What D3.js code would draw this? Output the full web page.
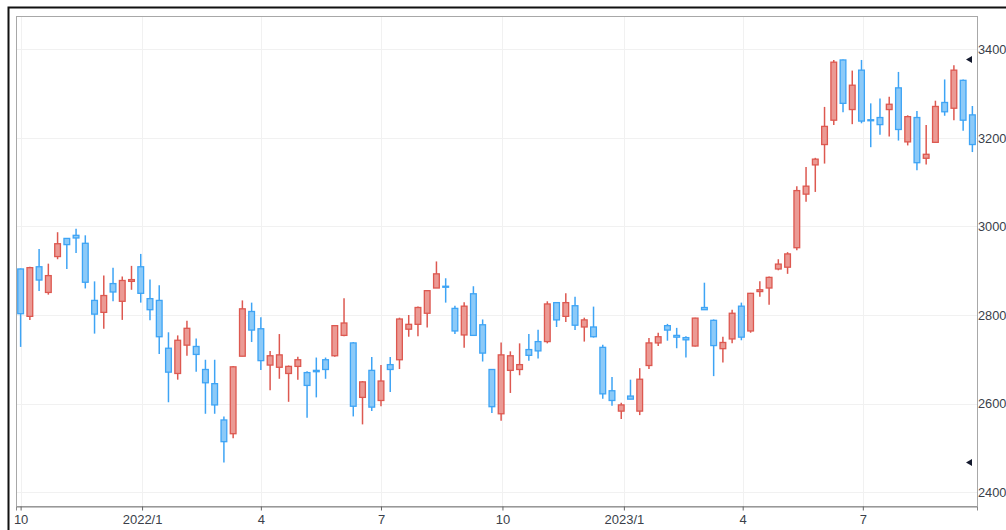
<!DOCTYPE html>
<html>
<head>
<meta charset="utf-8">
<script src="https://cdn.jsdelivr.net/npm/d3@7"></script>
<style>
  html, body { margin: 0; padding: 0; background: #fff; }
  svg { display: block; font-family: "Liberation Sans", Arial, sans-serif; }
</style>
</head>
<body>
<div class="container"></div>
<script>
// weekly candles (Friday of each week)
const dates = [
  '2021-10-01', '2021-10-08', '2021-10-15', '2021-10-22', '2021-10-29',
  '2021-11-05', '2021-11-12', '2021-11-19', '2021-11-26',
  '2021-12-03', '2021-12-10', '2021-12-17', '2021-12-24', '2021-12-31',
  '2022-01-07', '2022-01-14', '2022-01-21', '2022-01-28',
  '2022-02-04', '2022-02-11', '2022-02-18', '2022-02-25',
  '2022-03-04', '2022-03-11', '2022-03-18', '2022-03-25',
  '2022-04-01', '2022-04-08', '2022-04-15', '2022-04-22', '2022-04-29',
  '2022-05-06', '2022-05-13', '2022-05-20', '2022-05-27',
  '2022-06-03', '2022-06-10', '2022-06-17', '2022-06-24',
  '2022-07-01', '2022-07-08', '2022-07-15', '2022-07-22', '2022-07-29',
  '2022-08-05', '2022-08-12', '2022-08-19', '2022-08-26',
  '2022-09-02', '2022-09-09', '2022-09-16', '2022-09-23', '2022-09-30',
  '2022-10-07', '2022-10-14', '2022-10-21', '2022-10-28',
  '2022-11-04', '2022-11-11', '2022-11-18', '2022-11-25',
  '2022-12-02', '2022-12-09', '2022-12-16', '2022-12-23', '2022-12-30',
  '2023-01-06', '2023-01-13', '2023-01-20', '2023-01-27',
  '2023-02-03', '2023-02-10', '2023-02-17', '2023-02-24',
  '2023-03-03', '2023-03-10', '2023-03-17', '2023-03-24', '2023-03-31',
  '2023-04-07', '2023-04-14', '2023-04-21', '2023-04-28',
  '2023-05-05', '2023-05-12', '2023-05-19', '2023-05-26',
  '2023-06-02', '2023-06-09', '2023-06-16', '2023-06-23', '2023-06-30',
  '2023-07-07', '2023-07-14', '2023-07-21', '2023-07-28',
  '2023-08-04', '2023-08-11', '2023-08-18', '2023-08-25',
  '2023-09-01', '2023-09-08', '2023-09-15', '2023-09-22',
];

const open = [
  2904, 2797, 2909, 2851, 2932, 2973, 2980, 2962, 2833, 2806, 2871, 2831, 2876, 2909,
  2837, 2833, 2725, 2668, 2732, 2729, 2677, 2645, 2563, 2532, 2707, 2808,
  2769, 2687, 2682, 2668, 2684, 2670, 2675, 2699, 2708, 2754, 2737, 2614, 2675,
  2607, 2688, 2699, 2768, 2779, 2804, 2861, 2865, 2815, 2755, 2848, 2778, 2677, 2577,
  2675, 2677, 2722, 2740, 2740, 2828, 2797, 2821, 2773, 2773, 2727, 2629, 2583,
  2617, 2583, 2686, 2737, 2776, 2754, 2749, 2730, 2817, 2788, 2724, 2746, 2820,
  2764, 2853, 2861, 2904, 2908, 2952, 3073, 3139, 3185, 3240, 3376, 3264, 3353,
  3241, 3246, 3264, 3313, 3191, 3246, 3154, 3190, 3280, 3267, 3330, 3252,
];

const high = [
  2905, 2909, 2949, 2916, 2987, 2974, 2995, 2980, 2876, 2889, 2907, 2887, 2911, 2938,
  2880, 2867, 2761, 2754, 2787, 2747, 2699, 2699, 2571, 2685, 2833, 2828,
  2795, 2719, 2757, 2686, 2706, 2673, 2704, 2704, 2777, 2838, 2739, 2651, 2705,
  2687, 2705, 2794, 2800, 2819, 2856, 2921, 2883, 2821, 2829, 2865, 2790, 2678, 2738,
  2718, 2736, 2757, 2767, 2831, 2829, 2849, 2841, 2794, 2819, 2733, 2660, 2602,
  2654, 2680, 2748, 2760, 2780, 2771, 2752, 2794, 2873, 2790, 2751, 2812, 2828,
  2850, 2876, 2887, 2926, 2942, 3091, 3134, 3155, 3270, 3376, 3377, 3352, 3376,
  3278, 3289, 3293, 3349, 3251, 3261, 3229, 3284, 3332, 3364, 3332, 3272,
];

const low = [
  2728, 2789, 2854, 2846, 2926, 2904, 2940, 2860, 2758, 2769, 2831, 2789, 2857, 2828,
  2788, 2712, 2603, 2654, 2708, 2672, 2577, 2577, 2467, 2522, 2707, 2739,
  2676, 2630, 2656, 2604, 2654, 2568, 2614, 2656, 2706, 2752, 2571, 2553, 2583,
  2594, 2626, 2678, 2751, 2752, 2772, 2861, 2828, 2757, 2726, 2754, 2695, 2579, 2561,
  2624, 2664, 2697, 2702, 2736, 2773, 2784, 2766, 2740, 2749, 2611, 2595, 2565,
  2610, 2574, 2678, 2730, 2742, 2725, 2704, 2729, 2812, 2662, 2693, 2736, 2743,
  2760, 2841, 2823, 2901, 2893, 2946, 3056, 3078, 3142, 3229, 3258, 3231, 3233,
  3179, 3207, 3203, 3194, 3183, 3127, 3140, 3190, 3250, 3240, 3216, 3168,
];

const close = [
  2803, 2907, 2879, 2889, 2961, 2959, 2974, 2874, 2802, 2844, 2852, 2878, 2880, 2849,
  2812, 2751, 2671, 2743, 2770, 2711, 2647, 2597, 2514, 2683, 2814, 2766,
  2697, 2708, 2710, 2684, 2699, 2641, 2672, 2677, 2776, 2782, 2594, 2649, 2592,
  2651, 2677, 2791, 2779, 2817, 2855, 2893, 2863, 2764, 2820, 2754, 2714, 2593, 2710,
  2708, 2688, 2709, 2719, 2825, 2789, 2828, 2777, 2789, 2751, 2622, 2607, 2597,
  2610, 2655, 2737, 2751, 2766, 2750, 2744, 2793, 2812, 2731, 2738, 2804, 2750,
  2849, 2857, 2885, 2915, 2938, 3081, 3091, 3152, 3226, 3371, 3278, 3319, 3238,
  3239, 3230, 3276, 3219, 3248, 3144, 3163, 3271, 3259, 3353, 3240, 3185,
];

const yTicks = [2400, 2600, 2800, 3000, 3200, 3400];
const xTicks = [
  '2021-10-01', '2022-01-01', '2022-04-01', '2022-07-01',
  '2022-10-01', '2023-01-01', '2023-04-01', '2023-07-01',
];

const parse = d3.timeParse('%Y-%m-%d');
const candles = dates.map((d, i) => ({
  date: parse(d), open: open[i], high: high[i], low: low[i], close: close[i],
}));

const width = 1006;
const height = 530;
const plot = { left: 16, top: 16, right: 977, bottom: 506 };

const upColor = '#dd5850';
const downColor = '#3ea4f5';

const first = candles[0].date;
const last = candles[candles.length - 1].date;
const xScale = d3.scaleTime()
  .domain([d3.timeHour.offset(first, -84), d3.timeHour.offset(last, 84)])
  .range([plot.left, plot.right]);

const minLow = d3.min(low);
const maxHigh = d3.max(high);
const pad = (maxHigh - minLow) * 0.108;
const yScale = d3.scaleLinear()
  .domain([minLow - pad, maxHigh + pad])
  .range([plot.bottom, plot.top]);

const step = xScale(candles[1].date) - xScale(candles[0].date);
const bodyW = step * 0.62;

const svg = d3.select('.container')
  .append('svg')
  .attr('width', width)
  .attr('height', height);

// outer border
svg.append('rect')
  .attr('x', 8.5).attr('y', 7.5)
  .attr('width', 1010).attr('height', 540)
  .attr('fill', 'none')
  .attr('stroke', '#111')
  .attr('stroke-width', 2);

// grid
const grid = svg.append('g').attr('class', 'grid');
grid.selectAll('line.h')
  .data(yTicks)
  .enter()
  .append('line')
  .attr('class', 'h')
  .attr('x1', plot.left).attr('x2', plot.right)
  .attr('y1', d => Math.round(yScale(d)) + 0.5)
  .attr('y2', d => Math.round(yScale(d)) + 0.5)
  .attr('stroke', '#f1f1f1');

grid.selectAll('line.v')
  .data(xTicks.map(parse))
  .enter()
  .append('line')
  .attr('class', 'v')
  .attr('y1', plot.top).attr('y2', plot.bottom)
  .attr('x1', d => Math.round(xScale(d)) + 0.5)
  .attr('x2', d => Math.round(xScale(d)) + 0.5)
  .attr('stroke', '#f1f1f1');

// plot frame
svg.append('rect')
  .attr('x', plot.left + 0.5).attr('y', plot.top + 0.5)
  .attr('width', plot.right - plot.left).attr('height', plot.bottom - plot.top)
  .attr('fill', 'none')
  .attr('stroke', '#a8a8a8');

// x axis
const fmt = d => (d.getMonth() === 0 ? d3.timeFormat('%Y/1')(d) : String(d.getMonth() + 1));
const xAxis = d3.axisBottom(xScale)
  .tickValues(xTicks.map(parse))
  .tickFormat(fmt)
  .tickSize(4)
  .tickPadding(4);

svg.append('g')
  .attr('class', 'axis')
  .attr('transform', `translate(0, ${plot.bottom + 0.5})`)
  .call(xAxis)
  .call(g => g.select('.domain').attr('stroke', '#888'))
  .call(g => g.selectAll('.tick line').attr('stroke', '#666'))
  .call(g => g.selectAll('.tick text')
    .attr('fill', '#3a3f4a')
    .style('font-size', '13px')
    .style('font-family', '"Liberation Sans", Arial, sans-serif'));

// y axis (right)
const yAxis = d3.axisRight(yScale)
  .tickValues(yTicks)
  .tickFormat(d3.format('d'))
  .tickSize(0)
  .tickPadding(1);

svg.append('g')
  .attr('class', 'axis')
  .attr('transform', `translate(${plot.right}, 0)`)
  .call(yAxis)
  .call(g => g.select('.domain').remove())
  .call(g => g.selectAll('.tick text')
    .attr('fill', '#3a3f4a')
    .style('font-size', '12.8px')
    .style('font-family', '"Liberation Sans", Arial, sans-serif'));

// candles
const colorOf = d => (d.close >= d.open ? upColor : downColor);

const g = svg.append('g').attr('class', 'candles');

g.selectAll('line.wick')
  .data(candles)
  .enter()
  .append('line')
  .attr('class', 'wick')
  .attr('x1', d => xScale(d.date))
  .attr('x2', d => xScale(d.date))
  .attr('y1', d => yScale(d.high))
  .attr('y2', d => yScale(d.low))
  .attr('stroke', colorOf)
  .attr('stroke-width', 1.5);

g.selectAll('rect.body')
  .data(candles)
  .enter()
  .append('rect')
  .attr('class', 'body')
  .attr('x', d => xScale(d.date) - bodyW / 2)
  .attr('y', d => yScale(Math.max(d.open, d.close)))
  .attr('width', bodyW)
  .attr('height', d => Math.max(1, Math.abs(yScale(d.open) - yScale(d.close))))
  .attr('fill', d => (d.close >= d.open ? '#eb9a94' : '#8ccaf8'))
  .attr('stroke', colorOf)
  .attr('stroke-width', 1.3);

// max / min markers
const markers = [maxHigh, minLow];
svg.append('g')
  .selectAll('path')
  .data(markers)
  .enter()
  .append('path')
  .attr('transform', d => `translate(${plot.right - 11}, ${yScale(d)})`)
  .attr('d', 'M0,0L6,-3.5L6,3.5Z')
  .attr('fill', '#141a2e');
</script>
</body>
</html>
